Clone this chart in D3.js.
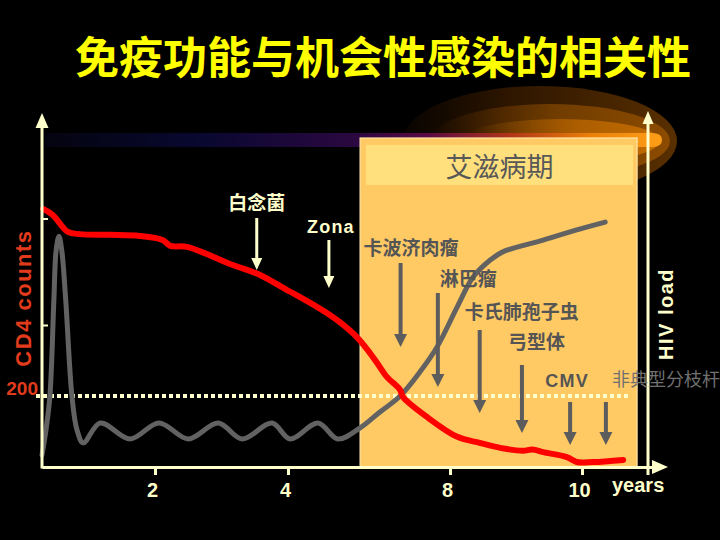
<!DOCTYPE html>
<html><head><meta charset="utf-8">
<script src="https://cdn.jsdelivr.net/npm/d3@7"></script>
<style>html,body{margin:0;padding:0;background:#000;overflow:hidden}</style>
</head><body>
<svg id="c" width="720" height="540"></svg>
<script>
// ---------- data ----------
const titleText = "免疫功能与机会性感染的相关性";
const stageLabel = "艾滋病期";
const xTickYears = [2, 4, 8, 10];
const cd4TickValues = [400, 700];
const cd4Threshold = 200;
const aidsStage = [5.78, 10.83];

const cd4Years  = [0.02,0.19,0.46,0.67,1.2,1.73,2.12,2.23,2.48,3.17,3.58,3.98,4.12,4.96,5.28,5.70,5.95,6.20,6.44,6.77,6.84,7.43,8.11,8.45,8.76,9.1,9.25,9.41,9.77,9.92,10.17,10.62];
const cd4Values = [727,710,662,656,654,651,639,623,620,569,541,499,490,434,408,366,332,293,254,217,197,141,85,68,54,46,49,42,28,14,14,20];

const hivYears  = [0,0.07,0.14,0.21,0.25,0.30,0.35,0.42,0.53,0.62,0.73,1.03,1.56,2.06,2.50,2.95,3.31,3.76,4.05,4.74,5.23,5.78,6.27,6.77,7.26,7.68,8.11,8.35,8.61,8.80,9.41,9.92,10.35];
const hivValues = [3.4,10.4,20,47,61,65,61,47,20,10.4,6.8,12.4,7.9,12.4,7.9,12.4,7.9,12.4,7.9,12.4,7.9,11,15.5,20,26.8,33.8,45.1,53.5,58.3,60.6,63.9,66.8,69];

const infectionNames = ["白念菌","Zona","卡波济肉瘤","淋巴瘤","卡氏肺孢子虫","弓型体","CMV","非典型分枝杆"];
const infectionYears = [3.53,5.01,6.78,7.70,8.45,9.09,9.82,10.36];

// ---------- layout (pixels / styles) ----------
const labelDx     = [0, 2, -37, 2, -15, -14, -3, 6];
const labelAnchor = ["middle","middle","start","start","start","start","middle","start"];
const labelBase   = [210, 233, 255, 286, 319, 349, 387, 386];
const arrowTop    = [218, 240, 263, 293, 330, 365, 402, 402];
const arrowTip    = [270, 288, 347, 387, 413, 433, 445, 445];
const onDark      = [true, true, false, false, false, false, false, false];

const cream = "#FFFFCC", grayMark = "#5c5c5c", red = "#FF0000", orangeTxt = "#E23B1C";
const latin = "'Liberation Sans', Arial, 'Noto Sans CJK SC', sans-serif";
const cjk = "'Noto Sans CJK SC', 'Liberation Sans', sans-serif";

const svg = d3.select("#c");
svg.append("rect").attr("width",720).attr("height",540).attr("fill","#000");

const x = d3.scaleLinear().domain([0,2,4,8,10,11.1]).range([42,155,288,450,582,655]);
const yCD4 = d3.scaleLinear().domain([0,1000]).range([467,112]);
const yHIV = d3.scaleLinear().domain([0,100]).range([467,112]);

const defs = svg.append("defs");
function hGrad(id, stops, x1, x2){
  const g = defs.append("linearGradient").attr("id",id).attr("gradientUnits","userSpaceOnUse")
    .attr("x1",x1).attr("x2",x2).attr("y1",0).attr("y2",0);
  stops.forEach(s=>g.append("stop").attr("offset",s[0]).attr("stop-color",s[1]).attr("stop-opacity",s[2]===undefined?1:s[2]));
}
hGrad("g1",[[0,"#2a1200",0],[0.45,"#3a1c00",0.8],[1,"#5a3000",1]],370,680);
hGrad("g2",[[0,"#6a3600",0],[0.5,"#7a4200",0.85],[1,"#8e4c00",1]],430,680);
hGrad("g3",[[0,"#a05800",0],[0.5,"#b46200",0.85],[1,"#c87000",1]],470,680);
hGrad("bar",[[0,"#04040f"],[0.25,"#080830"],[0.5,"#2a0840"],[0.62,"#5a0a44"],[0.75,"#b03418"],[0.88,"#ea8008"],[1,"#ffa018"]],42,665);

// glow
svg.append("ellipse").attr("cx",540).attr("cy",141).attr("rx",137).attr("ry",55).attr("fill","url(#g1)");
svg.append("ellipse").attr("cx",550).attr("cy",141).attr("rx",120).attr("ry",37).attr("fill","url(#g2)");
svg.append("ellipse").attr("cx",560).attr("cy",141).attr("rx",100).attr("ry",22).attr("fill","url(#g3)");
svg.append("path").attr("d","M45,133 L652,133 Q662,133 662,140 Q662,147 652,147 L45,147 Z").attr("fill","url(#bar)");

// AIDS stage box
const bx0 = x(aidsStage[0]), bx1 = x(aidsStage[1]);
svg.append("rect").attr("x",bx0).attr("y",138).attr("width",bx1-bx0).attr("height",yCD4(0)-138)
  .attr("fill","#FFC964").attr("stroke","#FFE6A6").attr("stroke-width",1.2);
svg.append("rect").attr("x",bx0+6).attr("y",145).attr("width",bx1-bx0-10).attr("height",40).attr("fill","#FFE07C");
svg.append("text").attr("x",(bx0+bx1)/2+1).attr("y",177).attr("text-anchor","middle")
  .attr("font-family",cjk).attr("font-size",27).attr("fill","#585858").text(stageLabel);

// threshold dotted line
svg.append("line").attr("x1",36).attr("x2",628).attr("y1",yCD4(cd4Threshold)).attr("y2",yCD4(cd4Threshold))
  .attr("stroke",cream).attr("stroke-width",4).attr("stroke-dasharray","4 3");

// curves
const lineHIV = d3.line().x(d=>x(d[0])).y(d=>yHIV(d[1])).curve(d3.curveCatmullRom.alpha(0.5));
svg.append("path").datum(hivYears.map((t,i)=>[t,hivValues[i]])).attr("d",lineHIV)
  .attr("fill","none").attr("stroke","#626262").attr("stroke-width",5).attr("stroke-linecap","round");
const lineCD4 = d3.line().x(d=>x(d[0])).y(d=>yCD4(d[1])).curve(d3.curveCatmullRom.alpha(0.5));
svg.append("path").datum(cd4Years.map((t,i)=>[t,cd4Values[i]])).attr("d",lineCD4)
  .attr("fill","none").attr("stroke",red).attr("stroke-width",6).attr("stroke-linejoin","round").attr("stroke-linecap","round");

// axes
const xAxis = svg.append("g").attr("transform",`translate(0,${yCD4(0)})`)
  .call(d3.axisBottom(x).tickValues(xTickYears).tickSize(8).tickSizeOuter(0).tickFormat(d3.format("d")));
xAxis.select(".domain").attr("stroke",cream).attr("stroke-width",3);
xAxis.selectAll(".tick line").attr("stroke",cream).attr("stroke-width",3);
xAxis.selectAll(".tick text").attr("fill",cream).attr("font-family",latin).attr("font-weight","bold")
  .attr("font-size",20).attr("y",16).attr("dy","0.71em").attr("dx",-3);
svg.append("path").attr("d",`M652,${yCD4(0)-7} L668,${yCD4(0)} L652,${yCD4(0)+7} Z`).attr("fill",cream);

const yAxis = svg.append("g").attr("transform",`translate(${x(0)},0)`)
  .call(d3.axisLeft(yCD4).tickValues(cd4TickValues).tickSize(-6).tickFormat(""));
yAxis.select(".domain").remove();
yAxis.selectAll(".tick line").attr("stroke",cream).attr("stroke-width",2);
svg.append("line").attr("x1",x(0)).attr("x2",x(0)).attr("y1",yCD4(0)+1.5).attr("y2",124).attr("stroke",cream).attr("stroke-width",3);
svg.append("path").attr("d",`M${x(0)-6.5},128 L${x(0)},113 L${x(0)+6.5},128 Z`).attr("fill",cream);

const xr = 648;
svg.append("line").attr("x1",xr).attr("x2",xr).attr("y1",yCD4(0)+8).attr("y2",120).attr("stroke",cream).attr("stroke-width",3);
svg.append("path").attr("d",`M${xr-5.5},124 L${xr},111 L${xr+5.5},124 Z`).attr("fill",cream);

// axis titles
svg.append("text").attr("transform","translate(31,298) rotate(-90)").attr("text-anchor","middle")
  .attr("font-family",latin).attr("font-weight","bold").attr("font-size",22).attr("letter-spacing",1.5)
  .attr("fill",orangeTxt).text("CD4 counts");
svg.append("text").attr("x",38).attr("y",yCD4(cd4Threshold)-1).attr("text-anchor","end")
  .attr("font-family",latin).attr("font-weight","bold").attr("font-size",19).attr("fill",orangeTxt).text(cd4Threshold);
svg.append("text").attr("transform","translate(673,314) rotate(-90)").attr("text-anchor","middle")
  .attr("font-family",latin).attr("font-weight","bold").attr("font-size",20).attr("letter-spacing",1.5)
  .attr("fill",cream).text("HIV load");
svg.append("text").attr("x",612).attr("y",492).attr("font-family",latin).attr("font-weight","bold")
  .attr("font-size",20).attr("fill",cream).text("years");

// infection annotations
infectionNames.forEach((name,i)=>{
  const ax = x(infectionYears[i]);
  const col = onDark[i] ? cream : grayMark;
  const lw = onDark[i] ? 3 : 4;
  const hw = onDark[i] ? 5.5 : 6.5, hh = onDark[i] ? 12 : 13;
  svg.append("line").attr("x1",ax).attr("x2",ax).attr("y1",arrowTop[i]).attr("y2",arrowTip[i]-hh+2)
    .attr("stroke",col).attr("stroke-width",lw);
  svg.append("path").attr("d",`M${ax-hw},${arrowTip[i]-hh} L${ax+hw},${arrowTip[i]-hh} L${ax},${arrowTip[i]} Z`).attr("fill",col);
  const isLatin = /^[A-Za-z]+$/.test(name);
  const last = i === infectionNames.length-1;
  svg.append("text").attr("x",ax+labelDx[i]).attr("y",labelBase[i]).attr("text-anchor",labelAnchor[i])
    .attr("font-family",isLatin?latin:cjk).attr("font-weight",last?"normal":"bold")
    .attr("font-size",isLatin?18:(last?18:19)).attr("letter-spacing",isLatin?1.2:0)
    .attr("fill",onDark[i]?cream:(last?"#707070":"#555555")).text(name);
});

// title
svg.append("text").attr("x",75).attr("y",74).attr("font-family",cjk).attr("font-weight","bold")
  .attr("font-size",44).attr("fill","#FFFF00").text(titleText);
</script>
</body></html>
